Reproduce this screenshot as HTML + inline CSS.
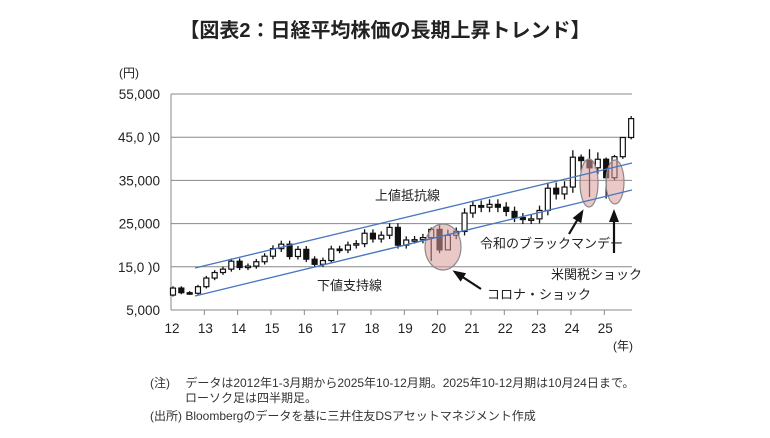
<!DOCTYPE html>
<html><head><meta charset="utf-8"><style>
body{margin:0;background:#fff;width:770px;height:433px;overflow:hidden;font-family:"Liberation Sans","Noto Sans CJK JP",sans-serif;}
</style></head><body>
<svg id="s" width="770" height="433" xmlns="http://www.w3.org/2000/svg" font-family="Liberation Sans, Noto Sans CJK JP, sans-serif">
<text x="385" y="37" text-anchor="middle" font-size="20" font-weight="bold" fill="#222">【図表2：日経平均株価の長期上昇トレンド】</text>
<text x="119" y="77" font-size="12" fill="#222">(円)</text>
<g id="grid" stroke="#888" stroke-width="1"></g>
<g id="cands"></g>
<g font-size="13" fill="#222" id="lbl"></g>
</svg>
<script>
const s=document.getElementById('s'),NS='http://www.w3.org/2000/svg';
function el(t,a,p){const e=document.createElementNS(NS,t);for(const k in a)e.setAttribute(k,a[k]);(p||s).appendChild(e);return e;}
const Y=v=>310-(v-5000)*216/50000;
const g=document.getElementById('grid');
[55000,45000,35000,25000,15000].forEach(v=>el('line',{x1:171,x2:632,y1:Y(v),y2:Y(v)},g));
el('line',{x1:171,x2:171,y1:94,y2:310},g);
el('line',{x1:171,x2:632,y1:310,y2:310},g);
const labs=['55,000','45,0 )0','35,000','25,000','15,0 )0','5,000'];
[55000,45000,35000,25000,15000,5000].forEach((v,i)=>{const t=el('text',{x:160,y:Y(v)+5,'text-anchor':'end','font-size':13.5,fill:'#222'});t.textContent=labs[i];});
for(let yr=12;yr<=25;yr++){const x=171+(yr-12)*33.33;if(yr>12)el('line',{x1:x,x2:x,y1:310,y2:315},g);const t=el('text',{x:x+1,y:333,'text-anchor':'middle','font-size':13.5,fill:'#222'});t.textContent=yr;}
const ty=el('text',{x:613,y:350,'font-size':12,fill:'#222'});ty.textContent='(年)';
const closes=[8455,10083,9007,8870,10395,12398,13677,14456,16291,14828,15162,16174,17451,19207,20236,17388,19034,16759,15576,16450,19114,18909,20033,20356,22765,21454,22305,24120,20015,21206,21276,21756,23657,18917,22288,23185,27444,29179,28792,29453,28792,27821,26393,25937,26095,28041,33189,31858,33464,40369,39583,37920,39895,35618,40487,44933,49300];
const ov={32:[24100,16358],34:[23600,21000],50:[41000,37000],51:[42224,31156],53:[40300,30792],54:[40900,35000],55:[45000,40000],56:[49900,44500]};
const cg=document.getElementById('cands');
for(let i=1;i<closes.length;i++){
 const o=closes[i-1],c=closes[i];let hi=Math.max(o,c)*1.04,lo=Math.min(o,c)*0.96;
 if(ov[i]){hi=ov[i][0];lo=ov[i][1];}
 const x=173+8.33*(i-1);
 el('line',{x1:x,x2:x,y1:Y(hi),y2:Y(lo),stroke:'#111','stroke-width':1.3},cg);
 const top=Y(Math.max(o,c)),h=Math.max(1.5,Y(Math.min(o,c))-top);
 el('rect',{x:x-2.5,y:top,width:5,height:h,fill:c>=o?'#fff':'#111',stroke:'#111','stroke-width':1.2},cg);
}
const ef={fill:'#d89a9a','fill-opacity':0.55,stroke:'#8a8a8a','stroke-width':1.2};
el('ellipse',Object.assign({cx:443,cy:247,rx:18,ry:23},ef));
el('ellipse',Object.assign({cx:589,cy:183,rx:9,ry:24},ef));
el('ellipse',Object.assign({cx:615,cy:182,rx:9,ry:22},ef));
el('line',{x1:195,y1:268,x2:632,y2:163,stroke:'#4a78c0','stroke-width':1.4});
el('line',{x1:195,y1:296,x2:632,y2:190,stroke:'#4a78c0','stroke-width':1.4});
function arrow(x1,y1,x2,y2){el('line',{x1,y1,x2,y2,stroke:'#111','stroke-width':2.2});const a=Math.atan2(y2-y1,x2-x1),L=10,W=5;
 const p=[[x2+3*Math.cos(a),y2+3*Math.sin(a)],[x2-L*Math.cos(a)+W*Math.sin(a),y2-L*Math.sin(a)-W*Math.cos(a)],[x2-L*Math.cos(a)-W*Math.sin(a),y2-L*Math.sin(a)+W*Math.cos(a)]];
 el('polygon',{points:p.map(q=>q.join(',')).join(' '),fill:'#111'});}
arrow(481,289,455,272);arrow(569,234,582,212);arrow(614,253,614,212);
const L=[['上値抵抗線',375,200],['下値支持線',317,290],['令和のブラックマンデー',480,248],['米関税ショック',551,279],['コロナ・ショック',487,299]];
L.forEach(a=>{const t=el('text',{x:a[1],y:a[2],'font-size':13,fill:'#222'});t.textContent=a[0];});
const F=[['(注)　 データは2012年1-3月期から2025年10-12月期。2025年10-12月期は10月24日まで。',150,387],['ローソク足は四半期足。',185,402],['(出所)  Bloombergのデータを基に三井住友DSアセットマネジメント作成',150,420]];
F.forEach(a=>{const t=el('text',{x:a[1],y:a[2],'font-size':12,fill:'#333'});t.textContent=a[0];});
</script>
</body></html>
